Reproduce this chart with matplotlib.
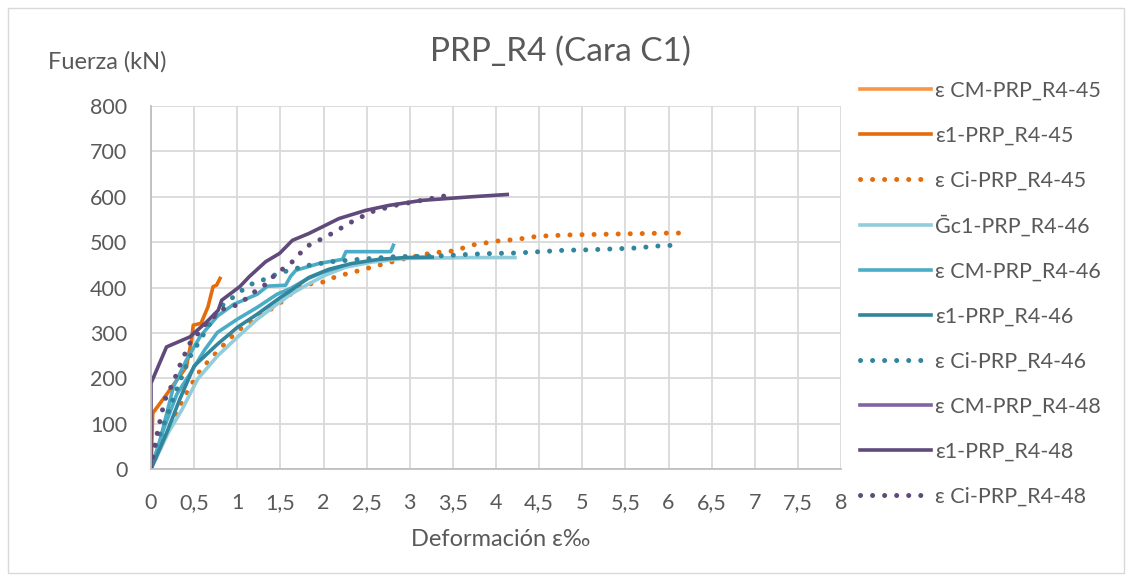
import matplotlib
matplotlib.use("Agg")
import matplotlib.pyplot as plt
from matplotlib.patches import Rectangle

plt.rcParams['font.family'] = ['Lato', 'DejaVu Sans']

# ---- data ----
cm45_x = []
cm45_y = []

e1_45_x = [0, 0.02, 0.16, 0.30, 0.41, 0.47, 0.49, 0.58, 0.66, 0.72, 0.76, 0.80]
e1_45_y = [0, 123, 159, 196, 225, 284, 317, 321, 357, 402, 405, 420]

ci45_x = [0, 0.10, 0.22, 0.33, 0.45, 0.58, 0.80, 1.00, 1.22, 1.46, 1.74, 2.03, 2.14,
          2.37, 2.64, 2.95, 3.25, 3.53, 3.66, 3.78, 3.91, 4.04, 4.18, 4.31, 4.45,
          4.60, 4.74, 4.87, 5.16, 5.43, 5.72, 6.01, 6.15]
ci45_y = [0, 45, 93, 137, 181, 220, 265, 304, 333, 360, 405, 413, 424,
          435, 449, 464, 476, 481, 490, 496, 499, 503, 505, 508, 512,
          514, 515, 516, 517, 518, 519, 520, 520]

gc1_46_x = [0, 0.20, 0.36, 0.54, 0.77, 1.00, 1.23, 1.46, 1.62, 1.80, 2.03, 2.26,
            2.56, 2.95, 3.72, 4.22]
gc1_46_y = [0, 80, 131, 198, 249, 290, 330, 363, 385, 405, 428, 445,
            456, 464, 466, 466]

# CM-46 has two branches in the reference (loading / reloading)
cm46_x = [0, 0.10, 0.26, 0.41, 0.57, 0.77, 0.96, 1.23, 1.35, 1.56, 1.62, 1.68,
          1.95, 2.22, 2.26, 2.78, 2.81]
cm46_y = [0, 60, 181, 240, 292, 337, 363, 385, 403, 405, 425, 438,
          453, 462, 479, 479, 493]
cm46b_x = [0, 0.15, 0.30, 0.46, 0.62, 0.77, 1.00, 1.23, 1.46, 1.62, 1.80, 2.00, 2.20]
cm46b_y = [0, 90, 165, 212, 262, 301, 330, 356, 385, 398, 418, 434, 446]

e1_46_x = [0, 0.18, 0.33, 0.50, 0.77, 1.00, 1.23, 1.50, 1.62, 1.83, 2.06,
           2.33, 2.64, 2.95, 3.26]
e1_46_y = [0, 79, 152, 227, 275, 312, 341, 378, 393, 422, 440,
           453, 462, 466, 467]

ci46_x = [0, 0.05, 0.18, 0.31, 0.45, 0.57, 0.79, 1.14, 1.27, 1.38, 1.60, 1.83,
          2.10, 2.41, 2.83, 3.25, 3.39, 3.68, 3.95, 4.24, 4.51, 4.79, 5.06,
          5.35, 5.62, 5.91, 6.06]
ci46_y = [0, 49, 115, 181, 247, 284, 355, 406, 414, 424, 438, 449,
          457, 462, 468, 469, 470, 473, 475, 476, 479, 482, 483,
          485, 487, 492, 493]

cm48_x = []
cm48_y = []

e1_48_x = [0, 0.0, 0.18, 0.45, 0.65, 0.78, 0.82, 1.03, 1.14, 1.33, 1.49, 1.64,
           1.83, 1.99, 2.18, 2.49, 2.76, 3.14, 3.72, 4.13]
e1_48_y = [0, 189, 269, 291, 325, 350, 372, 402, 424, 457, 475, 504,
           519, 534, 552, 570, 581, 592, 600, 605]

ci48_x = [0, 0.03, 0.08, 0.16, 0.26, 0.35, 0.45, 0.55, 0.64, 0.85, 0.99, 1.08,
          1.18, 1.28, 1.35, 1.45, 1.57, 1.64, 1.80, 2.06, 2.33, 2.56, 2.83,
          3.22, 3.49]
ci48_y = [0, 40, 86, 152, 192, 236, 277, 300, 321, 354, 361, 372,
          388, 400, 410, 431, 446, 457, 490, 515, 545, 567, 581,
          595, 605]

x_ticks = [0, 0.5, 1, 1.5, 2, 2.5, 3, 3.5, 4, 4.5, 5, 5.5, 6, 6.5, 7, 7.5, 8]
x_labels = ['0', '0,5', '1', '1,5', '2', '2,5', '3', '3,5', '4', '4,5', '5',
            '5,5', '6', '6,5', '7', '7,5', '8']
y_ticks = [0, 100, 200, 300, 400, 500, 600, 700, 800]

series = [
    (cm45_x, cm45_y, '#F79646', '-', 'ε CM-PRP_R4-45'),
    (e1_45_x, e1_45_y, '#E46C0A', '-', 'ε1-PRP_R4-45'),
    (ci45_x, ci45_y, '#E46C0A', ':', 'ε Ci-PRP_R4-45'),
    (gc1_46_x, gc1_46_y, '#92CDDC', '-', '\u1e20c1-PRP_R4-46'),
    (cm46_x, cm46_y, '#4BACC6', '-', 'ε CM-PRP_R4-46'),
    (e1_46_x, e1_46_y, '#31859C', '-', 'ε1-PRP_R4-46'),
    (ci46_x, ci46_y, '#31859C', ':', 'ε Ci-PRP_R4-46'),
    (cm48_x, cm48_y, '#8064A2', '-', 'ε CM-PRP_R4-48'),
    (e1_48_x, e1_48_y, '#604A7B', '-', 'ε1-PRP_R4-48'),
    (ci48_x, ci48_y, '#604A7B', ':', 'ε Ci-PRP_R4-48'),
]

txt = '#595959'
fs = 15.5
fig = plt.figure(figsize=(11.32, 5.81), dpi=100)
ax = fig.add_axes([151/1132, 112/581, 690/1132, 363/581])

for xs, ys, col, ls, lab in series:
    if ls == ':':
        ax.plot(xs, ys, color=col, lw=3.6, linestyle=(0, (0.01, 2.4)),
                dash_capstyle='round', label=lab)
    else:
        ax.plot(xs, ys, color=col, lw=2.6, label=lab, solid_joinstyle='round')
    if lab == 'ε CM-PRP_R4-46':
        ax.plot(cm46b_x, cm46b_y, color=col, lw=2.6, solid_joinstyle='round')

ax.set_xlim(0, 8)
ax.set_ylim(0, 800)
ax.set_xticks(x_ticks)
ax.set_xticklabels(x_labels)
ax.set_yticks(y_ticks)
ax.grid(True, color='#D9D9D9', lw=1.3)
ax.set_axisbelow(True)
for s in ['top', 'right']:
    ax.spines[s].set_visible(False)
for s in ['left', 'bottom']:
    ax.spines[s].set_color('#BFBFBF')
    ax.spines[s].set_linewidth(1.3)
ax.tick_params(length=0, labelsize=fs, colors=txt)
ax.tick_params(axis='x', pad=17)
ax.tick_params(axis='y', pad=17)

leg = ax.legend(loc='upper left', bbox_to_anchor=(841/1132, 1 - 61/581),
                bbox_transform=fig.transFigure, frameon=False, fontsize=fs,
                handlelength=3.3, handletextpad=0.15, labelspacing=1.16)
for t in leg.get_texts():
    t.set_color(txt)

fig.text(560/1132, 1 - 52/581, 'PRP_R4 (Cara C1)', fontsize=24, color=txt,
         ha='center', va='center')
fig.text(48/1132, 1 - 62/581, 'Fuerza (kN)', fontsize=17, color=txt,
         ha='left', va='center')
fig.text(501/1132, 1 - 540/581, 'Deformación ε‰', fontsize=17, color=txt,
         ha='center', va='center')

fig.patches.append(Rectangle((8/1132, 8/581), 1116/1132, 565/581,
                             transform=fig.transFigure, fill=False,
                             edgecolor='#D9D9D9', lw=1))

fig.savefig('out.png', dpi=100)
